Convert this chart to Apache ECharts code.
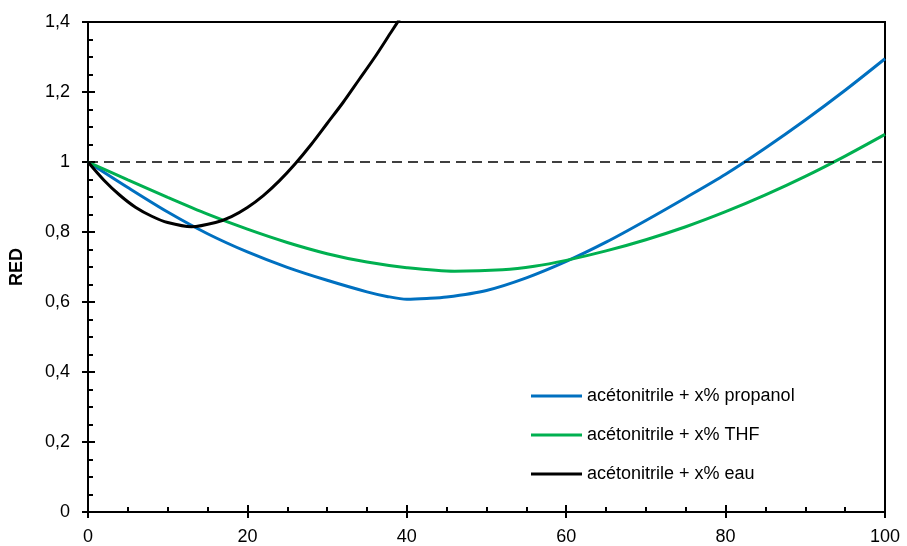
<!DOCTYPE html>
<html><head><meta charset="utf-8">
<script src="https://cdn.jsdelivr.net/npm/echarts@6/dist/echarts.min.js"></script>
<style>html,body{margin:0;padding:0;background:#fff}#c{width:907px;height:546px}</style>
</head><body><div id="c"></div>
<script>
var xPropanol = [0,5,10,15,20,25,30,35,37.5,40,42.5,45,50,55,60,65,70,75,80,85,90,95,100];
var yPropanol = [1.0,0.927,0.857,0.795,0.743,0.699,0.662,0.629,0.616,0.608,0.610,0.614,0.633,0.669,0.716,0.771,0.833,0.898,0.965,1.04,1.12,1.205,1.295];
var xTHF = [0,5,10,15,20,25,30,35,40,46,52,56,60,65,70,75,80,85,90,95,100];
var yTHF = [1.0,0.949,0.899,0.851,0.808,0.770,0.738,0.714,0.698,0.688,0.692,0.702,0.719,0.746,0.778,0.815,0.858,0.906,0.959,1.017,1.079];
var xEau = [0,2,4,6,8,10,13,16,18,20,22,24,26,28,30,32,34,36,38,40];
var yEau = [1.0,0.948,0.905,0.870,0.845,0.827,0.815,0.827,0.844,0.870,0.904,0.946,0.995,1.05,1.11,1.17,1.235,1.30,1.37,1.44];
var seriesNames = ['acétonitrile + x% propanol','acétonitrile + x% THF','acétonitrile + x% eau'];
var yTicks = [0,0.2,0.4,0.6,0.8,1,1.2,1.4];
var xTicks = [0,20,40,60,80,100];
var refLine = 1;

function pairs(xs, ys){ return xs.map(function(x,i){return [x, ys[i]];}); }
var font = 'Liberation Sans, Arial, sans-serif';
var chart = echarts.init(document.getElementById('c'));
var yLab = function(v){ return String(v).replace('.', ','); };
var axBase = {
  type:'value', min:0,
  axisLine:{show:true, lineStyle:{color:'#000', width:2}},
  splitLine:{show:false}
};
chart.setOption({
  animation:false,
  grid:{left:87, right:22, top:22, bottom:34, show:true, borderColor:'#000', borderWidth:2},
  legend:{
    orient:'vertical', left:526, top:382, itemWidth:51, itemHeight:3, itemGap:21,
    icon:'rect',
    textStyle:{fontFamily:font, fontSize:18, color:'#000'},
    data: seriesNames
  },
  xAxis:[
    Object.assign({}, axBase, {max:100, interval:20,
      axisTick:{show:true, inside:false, length:6, lineStyle:{color:'#000', width:2}},
      axisLabel:{margin:16, fontFamily:font, fontSize:18, color:'#000'}}),
    Object.assign({}, axBase, {max:100, interval:20, position:'bottom',
      axisTick:{show:true, inside:true, length:7, lineStyle:{color:'#000', width:2}},
      minorTick:{show:true, splitNumber:4, length:5, lineStyle:{color:'#000', width:2}},
      axisLabel:{show:false}})
  ],
  yAxis:[
    Object.assign({}, axBase, {max:1.4, interval:0.2,
      name:'RED', nameLocation:'middle', nameGap:62, nameRotate:90,
      nameTextStyle:{fontFamily:font, fontSize:18, fontWeight:'bold', color:'#000'},
      axisTick:{show:true, inside:false, length:6, lineStyle:{color:'#000', width:2}},
      axisLabel:{margin:18, fontFamily:font, fontSize:18, color:'#000', formatter:yLab}}),
    Object.assign({}, axBase, {max:1.4, interval:0.2, position:'left',
      axisTick:{show:true, inside:true, length:7, lineStyle:{color:'#000', width:2}},
      minorTick:{show:true, splitNumber:4, length:5, lineStyle:{color:'#000', width:2}},
      axisLabel:{show:false}})
  ],
  series:[
    {name:seriesNames[0], type:'line', data:pairs(xPropanol,yPropanol), smooth:0.3, showSymbol:false, symbol:'none',
     lineStyle:{color:'#0070C0', width:3}, itemStyle:{color:'#0070C0'}, clip:true,
     markLine:{silent:true, symbol:'none', label:{show:false},
       lineStyle:{color:'#000', width:1.5, type:[10,6]}, data:[{yAxis:refLine}]}},
    {name:seriesNames[1], type:'line', data:pairs(xTHF,yTHF), smooth:0.3, showSymbol:false, symbol:'none',
     lineStyle:{color:'#00B050', width:3}, itemStyle:{color:'#00B050'}, clip:true},
    {name:seriesNames[2], type:'line', data:pairs(xEau,yEau), smooth:0.3, showSymbol:false, symbol:'none',
     lineStyle:{color:'#000', width:3}, itemStyle:{color:'#000'}, clip:true}
  ]
});
</script></body></html>
